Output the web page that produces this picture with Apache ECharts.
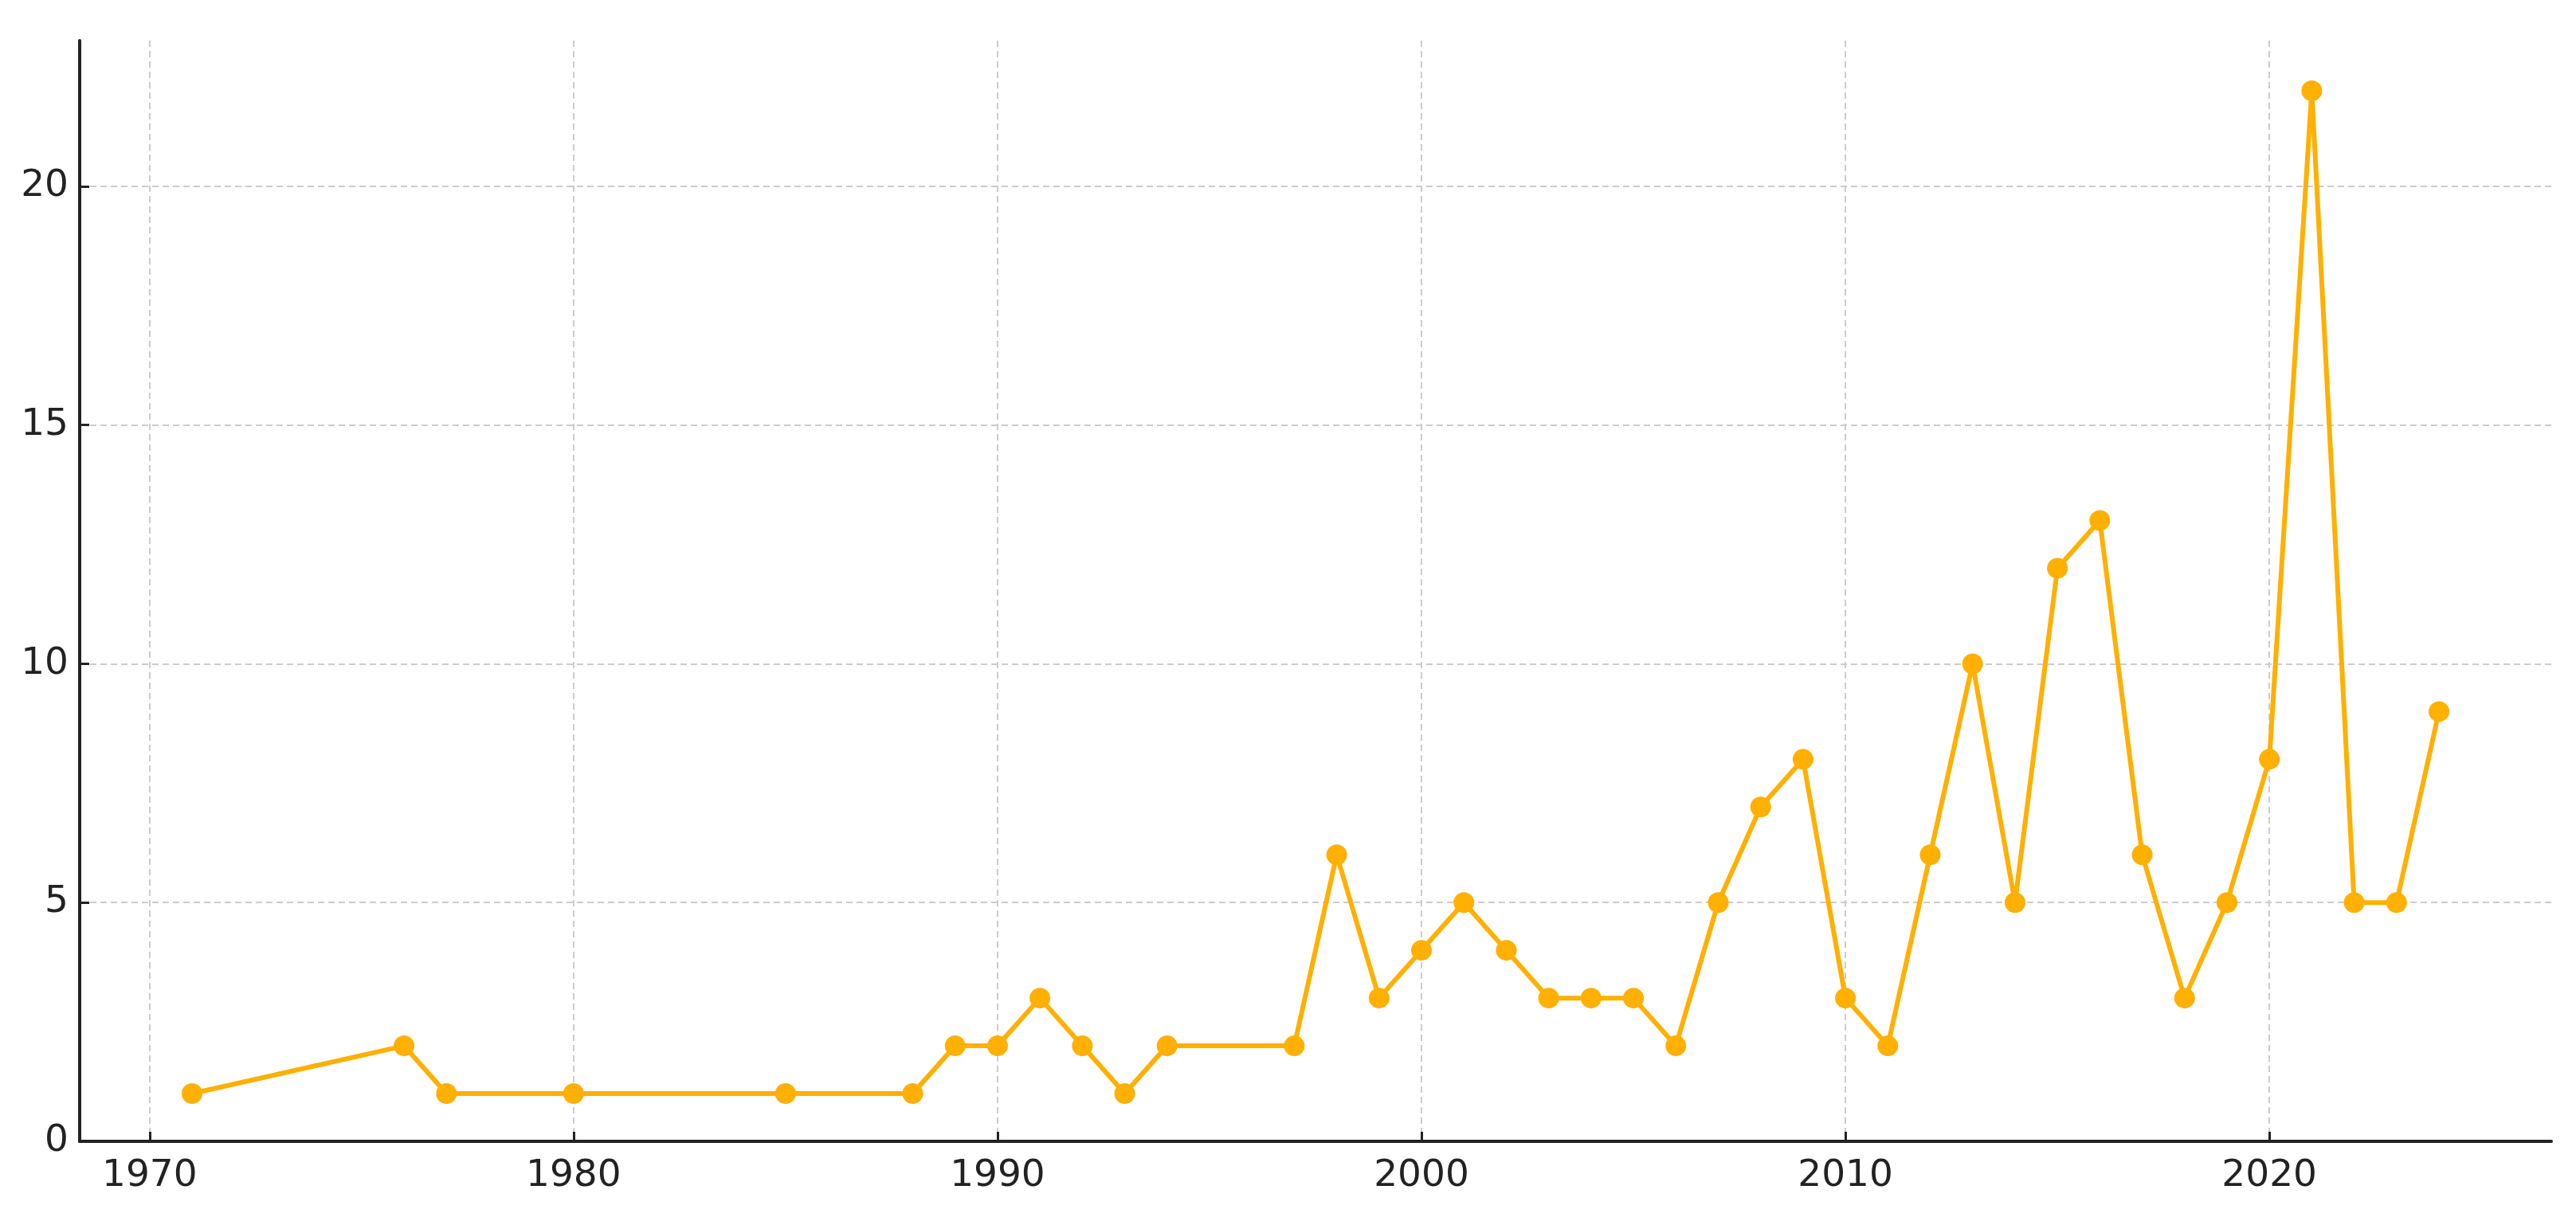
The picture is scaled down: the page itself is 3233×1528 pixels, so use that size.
<!DOCTYPE html>
<html>
<head>
<meta charset="utf-8">
<script src="https://cdn.jsdelivr.net/npm/echarts@6/dist/echarts.min.js"></script>
<style>
  html, body { margin: 0; padding: 0; background: #fff; }
  #main { width: 3233px; height: 1528px; }
</style>
</head>
<body>
<div id="main"></div>
<script>
var years = [1971, 1976, 1977, 1980, 1985, 1988, 1989, 1990, 1991, 1992, 1993, 1994, 1997, 1998, 1999,
  2000, 2001, 2002, 2003, 2004, 2005, 2006, 2007, 2008, 2009, 2010, 2011, 2012, 2013, 2014, 2015,
  2016, 2017, 2018, 2019, 2020, 2021, 2022, 2023, 2024];
var counts = [1, 2, 1, 1, 1, 1, 2, 2, 3, 2, 1, 2, 2, 6, 3,
  4, 5, 4, 3, 3, 3, 2, 5, 7, 8, 3, 2, 6, 10, 5, 12,
  13, 6, 3, 5, 8, 22, 5, 5, 9];
var xTicks = [1970, 1980, 1990, 2000, 2010, 2020];
var yTicks = [0, 5, 10, 15, 20];

var chartDom = document.getElementById('main');
var myChart = echarts.init(chartDom);
var option;

var points = [];
for (var i = 0; i < years.length; i++) {
  points.push([years[i], counts[i]]);
}

var gridLine = { show: true, lineStyle: { color: '#cccccc', width: 2, type: [8, 5] } };

option = {
  animation: false,
  grid: { left: 100, right: 31, top: 51, bottom: 95, containLabel: false },
  xAxis: {
    type: 'value',
    min: 1968.35,
    max: 2026.65,
    axisLine: { show: true, onZero: false, lineStyle: { color: '#222', width: 4 } },
    axisTick: { show: true, inside: true, length: 12, customValues: xTicks, lineStyle: { color: '#222', width: 3 } },
    axisLabel: {
      customValues: xTicks, color: '#222', fontSize: 47, fontFamily: 'DejaVu Sans', margin: 20,
      formatter: function (v) { return String(v); }
    },
    splitLine: gridLine
  },
  yAxis: {
    type: 'value',
    min: 0,
    max: 23.05,
    axisLine: { show: true, lineStyle: { color: '#222', width: 4 } },
    axisTick: { show: true, inside: true, length: 12, customValues: yTicks, lineStyle: { color: '#222', width: 3 } },
    axisLabel: { customValues: yTicks, color: '#222', fontSize: 47, fontFamily: 'DejaVu Sans', margin: 14 },
    splitLine: gridLine
  },
  series: [
    {
      type: 'line',
      data: points,
      symbol: 'circle',
      symbolSize: 26,
      showSymbol: true,
      itemStyle: { color: '#FFB000' },
      lineStyle: { color: '#FFB000', width: 6 }
    }
  ]
};

option && myChart.setOption(option);
</script>
</body>
</html>
